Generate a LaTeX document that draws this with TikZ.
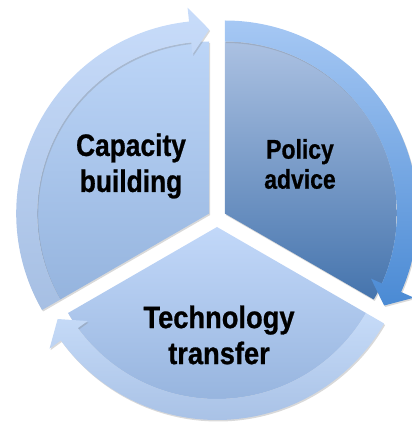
\documentclass[tikz,border=0pt]{standalone}
\usepackage{fontspec}
\newfontfamily\labelfont[FakeStretch=0.85,BoldFeatures={FakeBold=0.8}]{Liberation Sans}
\newfontfamily\widelabelfont[FakeStretch=0.88,BoldFeatures={FakeBold=0.8}]{Liberation Sans}
\usetikzlibrary{calc,shadows}

\definecolor{capbandtop}{HTML}{C8DCFA}
\definecolor{capbandbot}{HTML}{A6BFE3}
\definecolor{capdisctop}{HTML}{BCD5F7}
\definecolor{capdiscbot}{HTML}{95B4DE}
\definecolor{polbandtop}{HTML}{A6C8F4}
\definecolor{polbandbot}{HTML}{4A8AD4}
\definecolor{poldisctop}{HTML}{ABC1E2}
\definecolor{poldiscbot}{HTML}{4574AD}
\definecolor{techbandtop}{HTML}{C6DBF8}
\definecolor{techbandbot}{HTML}{A9C2E6}
\definecolor{techdisctop}{HTML}{C2D8F9}
\definecolor{techdiscbot}{HTML}{91B0DB}

\tikzset{
  piece/.style={drop shadow={opacity=0.3,shadow xshift=1pt,shadow yshift=-1.5pt}},
  parttext/.style={inner sep=0pt,align=center,text=black,
    font=\labelfont\bfseries\fontsize{31}{36}\selectfont}
}

\begin{document}
\begin{tikzpicture}[x=1pt,y=1pt]
  \useasboundingbox (0,0) rectangle (412,423);

  % the three pieces sit a little off the middle
  \coordinate (mid) at (217,205);
  \coordinate (capc) at ($(mid)+(150:9pt)$);
  \coordinate (polc) at ($(mid)+(30:9pt)$);
  \coordinate (techc) at ($(mid)+(270:9pt)$);

  % technology transfer
  \begin{scope}[shift={(techc)}]
    \path[piece,top color=techdisctop,bottom color=techdiscbot]
      (0,0) -- (-30:172pt) arc[start angle=-30,end angle=-150,radius=172pt] -- cycle;
    \path[piece,top color=techbandtop,bottom color=techbandbot]
      (-30:193pt) arc[start angle=-30,end angle=-144,radius=193pt]
      -- (-144:207pt) -- (-150:184pt) -- (-144:160pt) -- (-144:172pt)
      arc[start angle=-144,end angle=-30,radius=172pt] -- cycle;
  \end{scope}

  % capacity building
  \begin{scope}[shift={(capc)}]
    \path[piece,top color=capdisctop,bottom color=capdiscbot]
      (0,0) -- (210:172pt) arc[start angle=210,end angle=90,radius=172pt] -- cycle;
    \path[piece,top color=capbandtop,bottom color=capbandbot]
      (210:193pt) arc[start angle=210,end angle=96,radius=193pt]
      -- (96:207pt) -- (90:184pt) -- (96:160pt) -- (96:172pt)
      arc[start angle=96,end angle=210,radius=172pt] -- cycle;
  \end{scope}

  % policy advice
  \begin{scope}[shift={(polc)}]
    \path[piece,top color=poldisctop,bottom color=poldiscbot]
      (0,0) -- (90:172pt) arc[start angle=90,end angle=-30,radius=172pt] -- cycle;
    \path[piece,top color=polbandtop,bottom color=polbandbot]
      (90:193pt) arc[start angle=90,end angle=-24,radius=193pt]
      -- (-24:207pt) -- (-30:184pt) -- (-24:160pt) -- (-24:172pt)
      arc[start angle=-24,end angle=90,radius=172pt] -- cycle;
  \end{scope}

  \node[parttext] (capacity) at (131,257) {Capacity\\building};
  \node[parttext,font=\labelfont\bfseries\fontsize{27}{30}\selectfont] (policy) at (300,259) {Policy\\advice};
  \node[parttext,font=\widelabelfont\bfseries\fontsize{31}{36}\selectfont] (transfer) at (219,88) {Technology\\transfer};
\end{tikzpicture}
\end{document}
